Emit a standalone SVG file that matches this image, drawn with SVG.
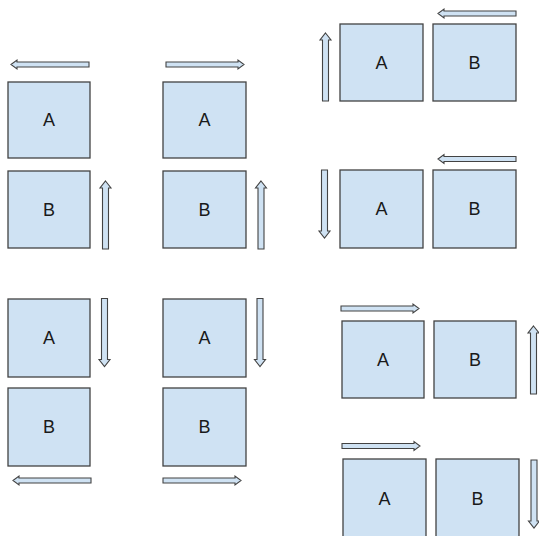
<svg xmlns="http://www.w3.org/2000/svg" width="539" height="536" viewBox="0 0 539 536">
<style>
.box{fill:#cfe2f3;stroke:#434343;stroke-width:1.3}
.lbl{font-family:"Liberation Sans",Arial,sans-serif;font-size:18px;fill:#1a1a1a;text-anchor:middle;dominant-baseline:central}
.arr{fill:#cfe2f3;stroke:#434343;stroke-width:1.1;stroke-linejoin:miter}
</style>
<defs>
<path id="hR" class="arr" d="M0,-2.5 H72 V-4.5 L78,0 L72,4.5 V2.5 H0 Z"/>
<path id="hL" class="arr" d="M0,0 L6,-4.5 V-2.5 H78 V2.5 H6 V4.5 Z"/>
<path id="vU" class="arr" d="M0,0 L5.5,7 H3 V68 H-3 V7 H-5.5 Z"/>
<path id="vD" class="arr" d="M-3,0 H3 V61 H5.5 L0,68 L-5.5,61 H-3 Z"/>
</defs>
<rect width="539" height="536" fill="#ffffff"/>
<g id="nodes">
<g id="c1A"><rect class="box" x="8" y="82" width="82" height="76"/><text class="lbl" x="49" y="120">A</text></g>
<g id="c1B"><rect class="box" x="8" y="171" width="82" height="77"/><text class="lbl" x="49" y="209.5">B</text></g>
<g id="c2A"><rect class="box" x="163" y="82" width="83" height="76"/><text class="lbl" x="204.5" y="120">A</text></g>
<g id="c2B"><rect class="box" x="163" y="171" width="83" height="77"/><text class="lbl" x="204.5" y="209.5">B</text></g>
<g id="r1A"><rect class="box" x="340" y="24" width="83" height="77"/><text class="lbl" x="381.5" y="62.5">A</text></g>
<g id="r1B"><rect class="box" x="433" y="24" width="83" height="77"/><text class="lbl" x="474.5" y="62.5">B</text></g>
<g id="r2A"><rect class="box" x="340" y="170" width="83" height="78"/><text class="lbl" x="381.5" y="209">A</text></g>
<g id="r2B"><rect class="box" x="433" y="170" width="83" height="78"/><text class="lbl" x="474.5" y="209">B</text></g>
<g id="c3A"><rect class="box" x="8" y="299" width="82" height="78"/><text class="lbl" x="49" y="338">A</text></g>
<g id="c3B"><rect class="box" x="8" y="388" width="82" height="78"/><text class="lbl" x="49" y="427">B</text></g>
<g id="c4A"><rect class="box" x="163" y="299" width="83" height="78"/><text class="lbl" x="204.5" y="338">A</text></g>
<g id="c4B"><rect class="box" x="163" y="388" width="83" height="78"/><text class="lbl" x="204.5" y="427">B</text></g>
<g id="r3A"><rect class="box" x="342" y="321" width="82" height="77"/><text class="lbl" x="383" y="359.5">A</text></g>
<g id="r3B"><rect class="box" x="434" y="321" width="82" height="77"/><text class="lbl" x="475" y="359.5">B</text></g>
<g id="r4A"><rect class="box" x="343" y="459" width="83" height="82"/><text class="lbl" x="384.5" y="499">A</text></g>
<g id="r4B"><rect class="box" x="436" y="459" width="83" height="82"/><text class="lbl" x="477.5" y="499">B</text></g>
</g>
<g id="connectors">
<use href="#hL" x="11" y="64.5"/>
<use href="#hR" x="166" y="64.5"/>
<use href="#hL" x="438" y="13.5"/>
<use href="#hL" x="438" y="159"/>
<use href="#hL" x="13" y="480.5"/>
<use href="#hR" x="163" y="480.5"/>
<use href="#hR" x="341" y="308.5"/>
<use href="#hR" x="342" y="446"/>
<use href="#vU" x="105.5" y="181"/>
<use href="#vU" x="261" y="181"/>
<use href="#vU" x="325.5" y="33"/>
<use href="#vD" x="324.5" y="170"/>
<use href="#vD" x="104.5" y="298.5"/>
<use href="#vD" x="260" y="298.5"/>
<use href="#vU" x="533.5" y="326"/>
<use href="#vD" x="534" y="460"/>
</g>
</svg>
